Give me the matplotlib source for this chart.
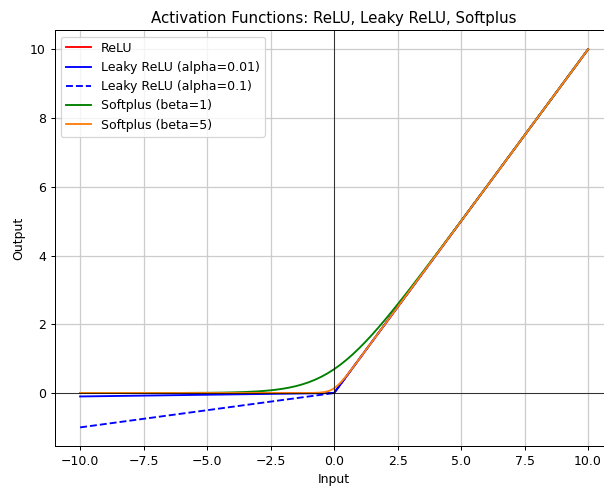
import matplotlib
matplotlib.use("Agg")
import matplotlib.pyplot as plt

# Piecewise-linear activations: breakpoints only
relu_x = [-10.0, 0.0, 10.0]
relu_y = [0.0, 0.0, 10.0]

leaky001_x = [-10.0, 0.0, 10.0]
leaky001_y = [-0.1, 0.0, 10.0]

leaky01_x = [-10.0, 0.0, 10.0]
leaky01_y = [-1.0, 0.0, 10.0]

# Softplus (beta=1) sampled values
sp1_x = [-10, -8, -6, -5, -4.5, -4, -3.5, -3, -2.75, -2.5, -2.25, -2, -1.75, -1.5,
         -1.25, -1, -0.75, -0.5, -0.25, 0, 0.25, 0.5, 0.75, 1, 1.25, 1.5, 1.75, 2,
         2.25, 2.5, 2.75, 3, 3.5, 4, 5, 6, 8, 10]
sp1_y = [0.0000, 0.0003, 0.0025, 0.0067, 0.0110, 0.0181, 0.0298, 0.0486, 0.0620,
         0.0789, 0.1002, 0.1269, 0.1602, 0.2014, 0.2519, 0.3133, 0.3868, 0.4741,
         0.5759, 0.6931, 0.8259, 0.9741, 1.1368, 1.3133, 1.5019, 1.7014, 1.9102,
         2.1269, 2.3502, 2.5789, 2.8119, 3.0486, 3.5298, 4.0181, 5.0067, 6.0025,
         8.0003, 10.0]

# Softplus (beta=5) sampled values
sp5_x = [-10, -2, -1, -0.8, -0.6, -0.4, -0.3, -0.2, -0.1, 0, 0.1, 0.2, 0.3, 0.4,
         0.6, 0.8, 1, 2, 10]
sp5_y = [0.0, 0.0000, 0.0013, 0.0036, 0.0097, 0.0254, 0.0403, 0.0627, 0.0948,
         0.1386, 0.1948, 0.2627, 0.3403, 0.4254, 0.6097, 0.8036, 1.0013, 2.0000,
         10.0]

DPI = 90
fig, ax = plt.subplots(figsize=(604 / DPI, 486 / DPI), dpi=DPI)
# The axes run slightly past the right edge of the canvas
fig.subplots_adjust(left=0.0906, right=1.0157, top=0.9374, bottom=0.0817)

ax.plot(relu_x, relu_y, color="r", label="ReLU")
ax.plot(leaky001_x, leaky001_y, color="b", label="Leaky ReLU (alpha=0.01)")
ax.plot(leaky01_x, leaky01_y, color="b", linestyle="--", label="Leaky ReLU (alpha=0.1)")
ax.plot(sp1_x, sp1_y, color="g", label="Softplus (beta=1)")
ax.plot(sp5_x, sp5_y, color="#ff7f0e", label="Softplus (beta=5)")

ax.axhline(0, color="black", linewidth=0.6)
ax.axvline(0, color="black", linewidth=0.6)

ax.set_title("Activation Functions: ReLU, Leaky ReLU, Softplus")
ax.set_xlabel("Input")
ax.set_ylabel("Output")
ax.legend(loc="upper left")
ax.grid(True, color="#cccccc", linewidth=1.0)

fig.savefig("out.png", dpi=DPI)
